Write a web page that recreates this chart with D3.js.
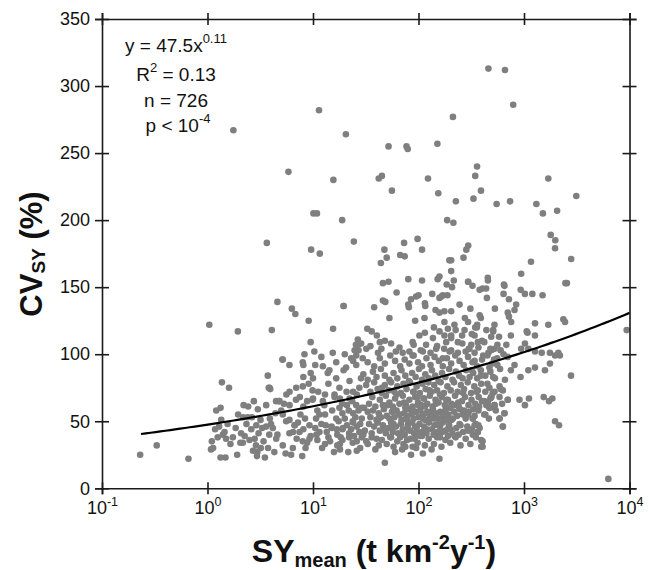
<!DOCTYPE html>
<html><head><meta charset="utf-8">
<script src="https://cdn.jsdelivr.net/npm/d3@7"></script>
<style>
body{margin:0;background:#fff}
text{font-family:"Liberation Sans",Arial,Helvetica,sans-serif;fill:#111}
</style>
</head><body>
<svg id="c" width="649" height="570"></svg>
<script>
// ---------- data ----------
const xTicks = [0.1, 1, 10, 100, 1000, 10000];
const xTickExp = ["-1", "0", "1", "2", "3", "4"];
const yTicks = [0, 50, 100, 150, 200, 250, 300, 350];
const fitA = 47.5, fitB = 0.11;
const fitRange = [0.234, 10000];

// SY_mean (t km-2 y-1), CV_SY (%)
const ptsLow = [
[0.23,25],[0.33,32],[0.66,22],
[1.04,122],[1.94,117],[1.76,267],[1.37,79],[1.6,75],[1.21,58],[1.33,60],[1.1,35],[1.08,29],[1.13,30],
[1.33,23],[1.48,23],[1.91,25],[1.35,51],[1.29,46],[1.4,40],[1.45,42],[1.74,38],[2.08,41],[2.05,34],
[2.16,34],[2.43,61],[2.75,65],[3.0,59],[2.41,53],[3.18,51],[2.8,37],[2.88,32],[2.97,27],[2.94,24],
[3.2,30],[2.18,53],[2.34,48],[2.64,53],[1.18,44],[1.55,48],[1.65,33],[1.85,45],[2.25,39],[2.6,44],
[2.7,28],[1.95,55],[2.2,62],[2.5,36],[1.5,37],[2.9,47],[3.05,41],[1.25,38]
];
const ptsMid = [
[3.73,84],[3.81,75],[3.93,74],[3.6,62],[3.9,52],[3.6,46],[3.85,40],[3.75,30],[4.47,65],[4.6,40],
[4.74,65],[5.3,63],[5.98,51],[6.73,47],[5.98,41],[6.47,42],[5.13,96],[5.98,92],[8.1,92],[8.1,83],
[9.5,86],[9.1,78],[9.9,73],[8.1,61],[8.8,65],[9.9,66],[7.2,49],[8.1,44],[8.8,34],[9.5,39],[8.5,30],
[4.07,118],[4.6,139],[3.65,183],[5.85,236],[6.3,134],[6.8,130],[9.1,125],[9.6,178],[9.5,109],[8.3,100],
[3.87,75],[4.81,65],[5.99,62],[5.17,55],[5.57,50],[6.68,47],[7.45,42],[4.16,45],[4.48,37],[5.17,32],
[6.44,30],[8.0,35],[9.26,37],[5.99,72],[6.93,75],[8.0,76],[5.17,96],[8.0,94],[9.26,47],
[7.6,55],[8.4,52],[7.0,37],[6.2,25],[7.9,24],[5.5,26],[4.3,27],[3.5,23],[3.4,35],[4.0,48],[4.4,56],
[5.0,58],[5.6,70],[6.9,66],[7.5,68],[3.3,45]
];
const ptsTen = [
[11.4,282],[20.5,264],[15.6,230],[10.1,205],[10.9,205],[18.9,200],[24.4,184],[11.6,175],[19.5,136],
[15.5,119],[10.3,102],[15.4,101],[26.6,111],[28.6,108],[25.5,107],[24.8,103],[25.7,99],
[12.4,91],[14.3,88],[16.6,94],[20.6,90],[25.7,92],[29.6,97],[10,82],[16.6,82],[17.8,75],[22.2,80],
[27.5,75],[10,67],[12.4,65],[17.8,60],[22.2,67],[25.7,62],[10.7,52],[11.5,42],[16.6,52],[19.2,45],
[23.8,50],[27.5,42],[15.8,27],[21.6,27],[23.8,34],
[11,58],[12,48],[13,55],[14,38],[13,70],[17,40],[18,33],[19,56],[21,62],[22,38],[24,56],[26,46],
[28,30],[29,60],[30,85],[16,70],[14,78],[20,100],[23,97],[27,103],[12,98],[10.5,92],[30,40],[26,28],
[15,45],[18,67],[24,72],[29,52],[11,36],[21,47],
[10.8,40],[11.5,55],[12.8,62],[13.2,47],[14.5,35],[15.2,58],[16,68],[16.8,44],[17.5,50],[18.3,38],
[18.9,63],[20,52],[20.8,72],[21.8,58],[23,44],[23.5,65],[24.5,39],[25.2,53],[26,70],[27,58],[28,48],
[28.5,82],[29.2,40],[30.5,60],[11.2,72],[13.8,86],[19.5,88],[24,95],[12.2,30],[18,29]
];
const ptsCore = [
// CV 20-40
[48,19],[70,29],[85,25],[158,22],[133,29],[39,29],[60,27],[110,26],[95,30],
[32,35],[26,35],[33,33],[36,38],[42,32],[45,36],[50,33],[54,38],[58,31],[63,35],[67,38],[72,33],
[78,36],[88,31],[92,37],[98,34],[115,32],[125,37],[140,33],[150,38],[165,31],[180,36],[200,34],
[220,39],[250,32],[280,37],[310,33],[350,38],[393,36],[405,31],[405,35],[29,38],[19,36],[17,32],
[13,33],[40,37],[75,31],[108,39],[190,39],
// CV 40-50
[10.5,45],[13.5,42],[15,46],[19,44],[22,41],[24,49],[31,43],[34,48],[36,41],[38,46],[41,49],[43,43],
[46,47],[49,41],[52,45],[55,49],[57,42],[61,46],[64,41],[68,48],[71,44],[74,40],[79,47],[83,43],
[87,49],[91,41],[96,45],[102,48],[107,42],[113,46],[119,41],[126,49],[134,44],[142,47],[151,42],
[160,46],[170,49],[181,43],[195,47],[210,41],[228,45],[245,48],[265,42],[290,46],[320,44],[350,48],
[365,42],[380,45],[327,40],
// CV 50-60
[33,57],[35,53],[37,58],[40,51],[42,56],[44,53],[47,59],[50,54],[53,52],[56,57],[59,53],[62,58],
[65,55],[69,51],[73,56],[77,54],[81,59],[86,55],[90,52],[95,57],[100,53],[104,58],[110,55],[116,51],
[122,57],[129,54],[137,59],[144,55],[152,52],[161,57],[170,53],[180,58],[192,55],[205,51],[218,57],
[232,54],[248,59],[262,55],[280,52],[300,57],[327,52],[340,54],[370,58],[420,55],[471,60],[525,60],
[586,52],[630,46],[653,56],
// CV 60-70
[34,63],[36.5,68],[39,61],[43,66],[46,62],[49,69],[53,64],[57,61],[60,67],[66,63],[71,69],[76,62],
[82,66],[88,61],[93,68],[99,64],[106,62],[113,67],[121,63],[128,69],[136,61],[145,66],[155,64],
[166,68],[178,62],[190,66],[205,63],[222,69],[240,61],[258,65],[276,68],[298,62],[318,66],[345,63],
[372,68],[400,65],[440,62],[480,67],[525,62],[586,68],[702,66],[454,64],
// CV 70-80
[31.9,77],[35,72],[38,79],[41,74],[45,71],[48,77],[52,73],[55,79],[59,72],[63,76],[68,71],[72,78],
[77,74],[83,79],[89,72],[96,76],[103,71],[109,78],[117,74],[124,79],[133,72],[141,77],[150,73],
[162,79],[174,71],[188,76],[202,73],[217,79],[235,72],[252,77],[270,74],[293,79],[315,71],[338,76],
[365,73],[393,78],[430,72],[470,75],[525,72],[586,76],[630,73],
// CV 80-90
[33,81],[37,87],[40,83],[44,89],[48,84],[53,81],[58,86],[63,82],[69,88],[75,84],[81,80],[87,86],
[94,83],[101,89],[108,81],[116,85],[125,82],[134,88],[144,84],[155,80],[167,86],[180,83],[195,89],
[210,81],[226,87],[243,84],[262,82],[283,88],[305,83],[330,86],[360,82],[390,88],[430,84],[480,87],
[530,82],[593,89],
// CV 90-100
[33,94],[38,91],[43,97],[48,93],[54,99],[60,95],[67,91],[74,96],[82,93],[90,99],[99,94],[108,91],
[119,97],[130,92],[142,98],[156,95],[170,91],[186,97],[204,93],[223,99],[245,95],[268,92],[295,98],
[325,94],[360,91],[400,96],[450,99],[500,93],[556,97],
// extra density in the core
[42,52],[47,44],[51,62],[55,38],[58,48],[62,70],[66,55],[70,40],[73,64],[78,51],[84,37],[88,58],
[93,46],[98,68],[104,39],[110,52],[115,61],[120,44],[127,73],[132,55],[139,40],[146,63],[152,48],
[160,70],[168,42],[175,57],[183,66],[192,45],[200,60],[212,52],[225,38],[238,64],[250,47],[265,71],
[280,55],[296,43],[45,75],[60,58],[80,44],[100,62],[125,50],[150,56],[200,44],[90,72],[112,67],
[140,52],[57,45],[75,60],[96,41],[118,56],[160,38],[185,51],[215,62],[240,40],[270,58]
];
const ptsHigh = [
// CV 100-130
[32.7,119],[36,117],[40.3,114],[32,104],[43,109],[48,110],[44.5,104],[41.3,101],[61,102],[70.8,101],
[82,102],[53,127],[93,125],[114,127],[88,109],[102,114],[118,107],[137,112],[158,117],[183,109],
[204,114],[88,99],[110,102],[147,104],[170,97],[197,102],[115,116],[140,120],[225,118],[345,120],
[510,118],[750,114],[1080,116],[35,106],[55,108],[66,105],[90,107],[105,103],[130,101],[150,106],
[175,104],[260,108],[280,102],[370,105],[420,109],[460,101],[600,103],[27,107],
[204,103],[236,101],[304,104],[340,101],[316,107],[560,107],[680,107],[489,103],[525,104],
[176,114],[204,112],[236,109],[259,114],[340,114],[365,109],[176,124],[190,119],[219,122],[275,127],
[295,124],[273,118],[525,122],[510,117],[489,113],[357,120],[81,135],[115,138],[145,133],[158,131],
[204,132],[116,136],[176,132],[245,137],[310,134],[530,134],[380,129],[390,127],
// CV 130-190
[44,168],[46,153],[52,154],[80,156],[62,146],[95,143],[85,141],[100,144],[46,140],[48.5,139],
[80,137],[38,135],[108,155],[158,158],[152,156],[208,150],[135,145],[158,142],[170,144],[165,143],
[185,152],[216,155],[295,154],[325,151],[296,154],[405,149],[455,155],[454,157],[645,152],[653,151],
[380,148],[438,149],[640,145],[720,141],[445,142],[188,144],[196,170],[267,172],[204,162],[204,170],
[47.5,178],[73,183],[98,186],[50,172],[67,174],[74,173],[108,178],[284,178],[296,181],[19.5,136],
// upper outliers
[52,255],[77,255],[79,253],[42,231],[45,233],[56,222],[123,231],[151,257],[154,220],[187,200],
[214,198],[212,277],[226,214],[332,216],[345,233],[359,240],[391,222],[460,313],[660,312],[790,286],
[550,212],[738,214]
];
const ptsRight = [
[320,88],[340,95],[355,72],[375,61],[390,84],[410,99],[430,55],[450,78],[470,90],[490,68],[510,83],
[540,58],[560,92],[600,74],[620,63],[660,81],[700,98],[750,88],[320,115],[360,122],[400,110],
[440,118],[480,104],[520,96],[580,113],[640,100],[300,104],[330,59],[370,47],[420,65],[465,52],
[505,71],[393,31],[365,42],[340,47],[327,52],[293,55],[630,46],[586,52],[525,62],[471,60],[489,68],
[702,66],[653,56],[1020,62],[1114,67],[906,66],[1271,90],[1580,88],[1762,93],[1968,99],[2190,99],
[927,83],[1099,88],[813,92],[1538,68],[1726,65],[1857,67],[1970,50],[2148,47],[2790,84],
[1271,123],[1271,114],[1700,122],[1061,117],[2360,126],[2449,124],[1271,102],[1473,101],[1760,101],
[2115,101],[1021,108],[940,104],[1100,104],[843,137],[813,133],[702,131],[720,128],[756,124],
[930,148],[1020,145],[1200,145],[1500,144],[1165,169],[940,160],[2470,153],[2550,153],[1790,189],
[1980,185],[1970,179],[2800,171],[1310,212],[1700,231],[1510,205],[2060,207],[3130,218],
[6300,7],[9400,118]
];
const statsLines = ["y = 47.5x", "R", "n = 726", "p < 10"];

// ---------- drawing ----------
const points = ptsLow.concat(ptsMid, ptsTen, ptsCore, ptsHigh, ptsRight);
const svg = d3.select("#c");
const L = 102, R = 629.5, T = 19, B = 488.3;
const x = d3.scaleLog().domain([0.1, 10000]).range([L, R]);
const y = d3.scaleLinear().domain([0, 350]).range([B, T]);
const axisColor = "#1a1a1a";

// points
svg.append("g").selectAll("circle").data(points).join("circle")
  .attr("cx", d => x(d[0])).attr("cy", d => y(d[1])).attr("r", 3.3)
  .attr("fill", "#7f7f7f");

// fit curve
const fx = d3.range(0, 101).map(i => Math.pow(10, Math.log10(fitRange[0]) + i / 100 * (Math.log10(fitRange[1]) - Math.log10(fitRange[0]))));
svg.append("path")
  .attr("d", d3.line().x(d => x(d)).y(d => y(fitA * Math.pow(d, fitB)))(fx))
  .attr("fill", "none").attr("stroke", "#000").attr("stroke-width", 2.2);

function styleAxis(g) {
  g.select(".domain").attr("stroke", axisColor).attr("stroke-width", 1.6);
  g.selectAll(".tick line").attr("stroke", axisColor).attr("stroke-width", 1.6);
}
// left
const gl = svg.append("g").attr("transform", `translate(${L},0)`)
  .call(d3.axisLeft(y).tickValues(yTicks).tickSizeOuter(0).tickSize(7).tickPadding(5).tickFormat(d3.format("d")));
gl.selectAll(".tick line").attr("x2", -7).attr("x1", 7);
gl.selectAll(".tick text").attr("font-size", 18).attr("fill", "#111").style("font-family", "Liberation Sans, Arial, sans-serif");
styleAxis(gl);
// right
const gr = svg.append("g").attr("transform", `translate(${R},0)`)
  .call(d3.axisRight(y).tickValues(yTicks).tickSizeOuter(0).tickSize(7).tickFormat(""));
gr.selectAll(".tick line").attr("x1", -7).attr("x2", 7);
styleAxis(gr);
// bottom
const gb = svg.append("g").attr("transform", `translate(0,${B})`)
  .call(d3.axisBottom(x).tickValues(xTicks).tickSizeOuter(0).tickSize(6).tickFormat(""));
gb.selectAll(".tick line").attr("y1", -6).attr("y2", 6);
styleAxis(gb);
gb.selectAll(".tick").each(function(d, i) {
  const t = d3.select(this).append("text").attr("y", 26).attr("text-anchor", "middle")
    .attr("font-size", 18).attr("fill", "#111").style("font-family", "Liberation Sans, Arial, sans-serif");
  t.append("tspan").text("10");
  t.append("tspan").attr("font-size", 12.5).attr("dy", -8).text(xTickExp[i]);
});
// top
const gt = svg.append("g").attr("transform", `translate(0,${T})`)
  .call(d3.axisTop(x).tickValues(xTicks).tickSizeOuter(0).tickSize(6).tickFormat(""));
gt.selectAll(".tick line").attr("y1", 6).attr("y2", -6);
styleAxis(gt);

// stats annotation
const ax = 176, fs = 19;
const a1 = svg.append("text").attr("x", ax).attr("y", 52).attr("text-anchor", "middle").attr("font-size", fs);
a1.append("tspan").text(statsLines[0]);
a1.append("tspan").attr("font-size", 13).attr("dy", -9).text("0.11");
const a2 = svg.append("text").attr("x", ax).attr("y", 81).attr("text-anchor", "middle").attr("font-size", fs);
a2.append("tspan").text(statsLines[1]);
a2.append("tspan").attr("font-size", 13).attr("dy", -9).text("2");
a2.append("tspan").attr("dy", 9).text(" = 0.13");
svg.append("text").attr("x", ax).attr("y", 107).attr("text-anchor", "middle").attr("font-size", fs).text(statsLines[2]);
const a4 = svg.append("text").attr("x", ax + 2).attr("y", 132).attr("text-anchor", "middle").attr("font-size", fs);
a4.append("tspan").text(statsLines[3]);
a4.append("tspan").attr("font-size", 13).attr("dy", -9).text("-4");

// y title
const yt = svg.append("text").attr("transform", "translate(42,254) rotate(-90)")
  .attr("text-anchor", "middle").attr("font-size", 31).attr("font-weight", "bold");
yt.append("tspan").text("CV");
yt.append("tspan").attr("font-size", 19).attr("dy", 3).text("SY");
yt.append("tspan").attr("dy", -3).text(" (%)");

// x title
const xt = svg.append("text").attr("x", 374).attr("y", 562)
  .attr("text-anchor", "middle").attr("font-size", 32).attr("font-weight", "bold");
xt.append("tspan").text("SY");
xt.append("tspan").attr("font-size", 20).attr("dy", 5).text("mean");
xt.append("tspan").attr("dy", -5).text(" (t km");
xt.append("tspan").attr("font-size", 20).attr("dy", -13).text("-2");
xt.append("tspan").attr("dy", 13).text("y");
xt.append("tspan").attr("font-size", 20).attr("dy", -13).text("-1");
xt.append("tspan").attr("dy", 13).text(")");
</script>
</body></html>
